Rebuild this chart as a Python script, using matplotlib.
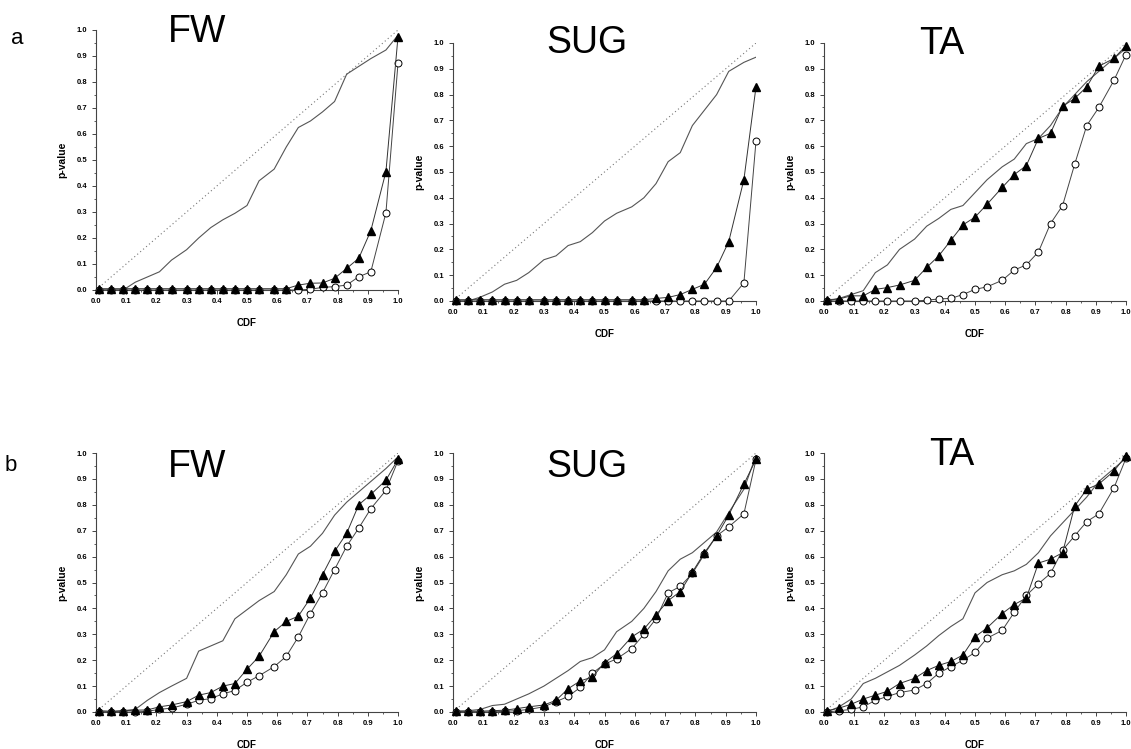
import matplotlib

matplotlib.use("Agg")
import matplotlib.pyplot as plt
from matplotlib import font_manager
from matplotlib.ticker import MultipleLocator, FormatStrFormatter

# CDF positions shared by every series
CDF = [0.01, 0.05, 0.09, 0.13, 0.17, 0.21, 0.25, 0.30, 0.34, 0.38, 0.42, 0.46, 0.50,
       0.54, 0.59, 0.63, 0.67, 0.71, 0.75, 0.79, 0.83, 0.87, 0.91, 0.96, 1.00]

# row a
A_FW_TRI = [0.005] * 16 + [0.019, 0.026, 0.027, 0.045, 0.083, 0.122, 0.228, 0.455, 0.974]
A_FW_CIR = [0.0] * 17 + [0.003, 0.01, 0.013, 0.019, 0.051, 0.07, 0.297, 0.872]
A_FW_OBS = [0.0, 0.0, 0.0, 0.03, 0.05, 0.07, 0.115, 0.155, 0.2, 0.24, 0.27, 0.295, 0.325,
            0.42, 0.465, 0.55, 0.625, 0.65, 0.685, 0.725, 0.83, 0.86, 0.89, 0.923, 0.98]

A_SUG_TRI = [0.005] * 16 + [0.01, 0.014, 0.025, 0.045, 0.065, 0.13, 0.23, 0.47, 0.83]
A_SUG_CIR = [0.0] * 23 + [0.07, 0.62]
A_SUG_OBS = [0.0, 0.0, 0.015, 0.035, 0.065, 0.08, 0.11, 0.16, 0.175, 0.215, 0.23, 0.265, 0.31,
             0.34, 0.365, 0.40, 0.455, 0.54, 0.575, 0.68, 0.74, 0.80, 0.89, 0.925, 0.945]

A_TA_TRI = [0.005, 0.008, 0.02, 0.02, 0.045, 0.052, 0.062, 0.08, 0.13, 0.175, 0.235, 0.295, 0.325,
            0.375, 0.44, 0.49, 0.525, 0.63, 0.65, 0.755, 0.785, 0.83, 0.91, 0.94, 0.99]
A_TA_CIR = [0.0] * 8 + [0.003, 0.008, 0.01, 0.025, 0.045, 0.055, 0.08, 0.12, 0.14, 0.19, 0.30,
                        0.37, 0.53, 0.68, 0.75, 0.855, 0.955]
A_TA_OBS = [0.0, 0.01, 0.025, 0.04, 0.11, 0.14, 0.2, 0.24, 0.29, 0.32, 0.355, 0.37, 0.42,
            0.47, 0.52, 0.55, 0.61, 0.63, 0.68, 0.75, 0.80, 0.85, 0.89, 0.94, 0.98]

# row b
B_FW_TRI = [0.005, 0.003, 0.005, 0.007, 0.008, 0.02, 0.027, 0.04, 0.065, 0.075, 0.10, 0.11, 0.165,
            0.215, 0.31, 0.35, 0.37, 0.44, 0.53, 0.62, 0.69, 0.80, 0.84, 0.895, 0.975]
B_FW_CIR = [0.0, 0.0, 0.0, 0.0, 0.003, 0.01, 0.015, 0.03, 0.045, 0.052, 0.07, 0.083, 0.115,
            0.14, 0.175, 0.215, 0.29, 0.38, 0.46, 0.55, 0.64, 0.71, 0.785, 0.856, 0.97]
B_FW_OBS = [0.0, 0.0, 0.005, 0.01, 0.045, 0.075, 0.10, 0.13, 0.235, 0.255, 0.275, 0.36, 0.395,
            0.43, 0.465, 0.53, 0.61, 0.64, 0.69, 0.76, 0.81, 0.85, 0.89, 0.94, 0.985]

B_SUG_TRI = [0.005, 0.003, 0.003, 0.005, 0.007, 0.013, 0.02, 0.027, 0.045, 0.09, 0.12, 0.135, 0.19,
             0.225, 0.29, 0.32, 0.375, 0.43, 0.465, 0.54, 0.615, 0.68, 0.76, 0.88, 0.975]
B_SUG_CIR = [0.0, 0.0, 0.0, 0.0, 0.003, 0.005, 0.01, 0.02, 0.04, 0.06, 0.095, 0.15, 0.185,
             0.205, 0.245, 0.30, 0.36, 0.46, 0.485, 0.535, 0.61, 0.68, 0.715, 0.765, 0.975]
B_SUG_OBS = [0.0, 0.005, 0.01, 0.025, 0.03, 0.05, 0.07, 0.10, 0.13, 0.16, 0.195, 0.21, 0.24,
             0.31, 0.35, 0.40, 0.465, 0.545, 0.59, 0.615, 0.655, 0.695, 0.77, 0.86, 0.99]

B_TA_TRI = [0.005, 0.015, 0.03, 0.05, 0.065, 0.08, 0.11, 0.13, 0.16, 0.18, 0.195, 0.22, 0.29,
            0.325, 0.38, 0.415, 0.44, 0.575, 0.59, 0.615, 0.795, 0.86, 0.88, 0.93, 0.99]
B_TA_CIR = [0.0, 0.005, 0.01, 0.02, 0.045, 0.06, 0.075, 0.085, 0.11, 0.15, 0.175, 0.20, 0.23,
            0.285, 0.315, 0.385, 0.45, 0.495, 0.535, 0.625, 0.68, 0.735, 0.765, 0.865, 0.98]
B_TA_OBS = [0.0, 0.02, 0.05, 0.11, 0.13, 0.155, 0.18, 0.22, 0.255, 0.295, 0.33, 0.36, 0.46,
            0.50, 0.53, 0.545, 0.57, 0.615, 0.68, 0.73, 0.78, 0.83, 0.89, 0.94, 0.98]

TITLES = ["FW", "SUG", "TA"]
ROW_LABELS = ["a", "b"]

W, H = 1131, 749
installed = {f.name for f in font_manager.fontManager.ttflist}
TITLE_FONT = "Liberation Sans Narrow" if "Liberation Sans Narrow" in installed else "Liberation Sans"

# axes boxes in pixels: (left, top, right, bottom)
BOXES = [
    [(96, 30, 398, 290), (453, 43, 756, 301), (824, 43, 1126, 301)],
    [(96, 453, 398, 712), (453, 453, 756, 712), (824, 453, 1126, 712)],
]
# title anchor: (centre x, baseline y) in pixels
TITLE_POS = [
    [(197, 42), (587, 53), (942, 54)],
    [(197, 477), (587, 477), (952, 465)],
]
ROW_POS = [(17, 44), (11, 471)]

SERIES = [
    [(A_FW_TRI, A_FW_CIR, A_FW_OBS), (A_SUG_TRI, A_SUG_CIR, A_SUG_OBS), (A_TA_TRI, A_TA_CIR, A_TA_OBS)],
    [(B_FW_TRI, B_FW_CIR, B_FW_OBS), (B_SUG_TRI, B_SUG_CIR, B_SUG_OBS), (B_TA_TRI, B_TA_CIR, B_TA_OBS)],
]


def panel(fig, box, tri, cir, obs):
    l, t, r, b = box
    ax = fig.add_axes([l / W, 1 - b / H, (r - l) / W, (b - t) / H])
    ax.plot([0, 1], [0, 1], ls=(0, (1, 2.5)), color="#777777", lw=0.8)
    ax.plot(CDF, obs, color="#555555", lw=0.8)
    ax.plot(CDF, cir, color="#444444", lw=0.7, marker="o", ms=5, mfc="white",
            mec="black", mew=0.7, clip_on=False, zorder=3)
    ax.plot(CDF, tri, color="#333333", lw=0.7, marker="^", ms=6, mfc="black",
            mec="black", clip_on=False, zorder=4)
    ax.set_xlim(0, 1)
    ax.set_ylim(0, 1)
    for side in ("top", "right"):
        ax.spines[side].set_visible(False)
    for side in ("left", "bottom"):
        ax.spines[side].set_linewidth(0.8)
        ax.spines[side].set_color("#444444")
    ax.xaxis.set_major_locator(MultipleLocator(0.1))
    ax.yaxis.set_major_locator(MultipleLocator(0.1))
    ax.xaxis.set_minor_locator(MultipleLocator(0.05))
    ax.yaxis.set_minor_locator(MultipleLocator(0.05))
    ax.xaxis.set_major_formatter(FormatStrFormatter("%.1f"))
    ax.yaxis.set_major_formatter(FormatStrFormatter("%.1f"))
    ax.tick_params(which="major", direction="out", length=3, width=0.7, color="#444444",
                   labelsize=5.5, pad=3)
    ax.tick_params(which="minor", direction="out", length=1.6, width=0.6, color="#444444")
    for lab in ax.get_xticklabels() + ax.get_yticklabels():
        lab.set_fontweight("bold")
        lab.set_family("Liberation Sans")
    ax.set_xlabel("CDF", fontsize=7, fontweight="bold", family="Liberation Sans", labelpad=9)
    ax.set_ylabel("p-value", fontsize=7.5, fontweight="bold", family="Liberation Sans", labelpad=7)
    return ax


fig = plt.figure(figsize=(W / 100, H / 100), dpi=100)
for row in range(2):
    for col in range(3):
        tri, cir, obs = SERIES[row][col]
        panel(fig, BOXES[row][col], tri, cir, obs)
        cx, by = TITLE_POS[row][col]
        fig.text(cx / W, 1 - by / H, TITLES[col], ha="center", va="baseline",
                 fontsize=27, family=TITLE_FONT)
    rx, ry = ROW_POS[row]
    fig.text(rx / W, 1 - ry / H, ROW_LABELS[row], ha="center", va="baseline",
             fontsize=16, family="Liberation Sans")

fig.savefig("out.png", dpi=100)
